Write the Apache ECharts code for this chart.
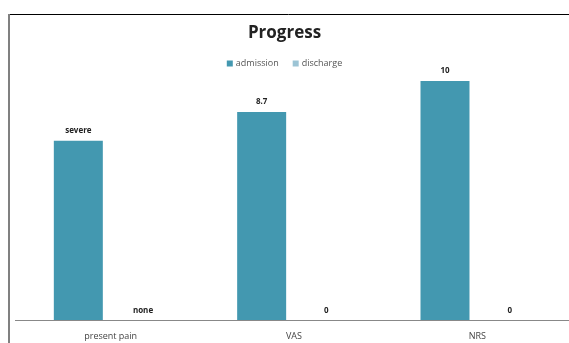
<!DOCTYPE html>
<html>
<head>
<meta charset="utf-8">
<script src="https://cdn.jsdelivr.net/npm/echarts@6/dist/echarts.min.js"></script>
<style>
html,body{margin:0;padding:0;background:#fff;}
#chart{width:569px;height:343px;}
</style>
</head>
<body>
<div id="chart"></div>
<script>
var categories = ["present pain", "VAS", "NRS"];
var admissionValues = [7.5, 8.7, 10];
var dischargeValues = [0, 0, 0];
var admissionLabels = ["severe", "8.7", "10"];
var dischargeLabels = ["none", "0", "0"];

var chart = echarts.init(document.getElementById('chart'));
var font = "'Open Sans', 'Liberation Sans', sans-serif";
chart.setOption({
  backgroundColor: '#ffffff',
  animation: false,
  title: {
    text: 'Progress',
    left: 'center',
    top: 20,
    textStyle: {fontFamily: font, fontSize: 17, fontWeight: 'bold', color: '#222'}
  },
  legend: {
    top: 54,
    left: 'center',
    itemWidth: 6,
    itemHeight: 6,
    itemGap: 14,
    icon: 'rect',
    textStyle: {fontFamily: font, fontSize: 9, color: '#555', padding: [0, 0, 0, -2]},
    data: ['admission', 'discharge']
  },
  grid: {left: 19, right: 0, top: 57, bottom: 23},
  xAxis: {
    type: 'category',
    data: categories,
    axisLine: {lineStyle: {color: '#888', width: 1}},
    axisTick: {show: false},
    axisLabel: {fontFamily: font, fontSize: 9, color: '#444', margin: 12}
  },
  yAxis: {
    type: 'value',
    min: 0,
    max: 11,
    show: false,
    splitLine: {show: false}
  },
  series: [
    {
      name: 'admission',
      type: 'bar',
      data: admissionValues,
      barWidth: 49,
      barGap: '32%',
      itemStyle: {color: '#4398B0'},
      label: {
        show: true, position: 'top', distance: 6,
        fontFamily: font, fontSize: 8, fontWeight: 'bold', color: '#222',
        formatter: function (p) { return admissionLabels[p.dataIndex]; }
      }
    },
    {
      name: 'discharge',
      type: 'bar',
      data: dischargeValues,
      barWidth: 49,
      itemStyle: {color: '#9CC4D5'},
      label: {
        show: true, position: 'top', distance: 5,
        fontFamily: font, fontSize: 8, fontWeight: 'bold', color: '#222',
        formatter: function (p) { return dischargeLabels[p.dataIndex]; }
      }
    }
  ],
  graphic: [
    {type: 'line', shape: {x1: 8, y1: 14.5, x2: 569, y2: 14.5}, style: {stroke: '#000', lineWidth: 1}},
    {type: 'line', shape: {x1: 9, y1: 14, x2: 9, y2: 343}, style: {stroke: '#808080', lineWidth: 2}},
    {type: 'line', shape: {x1: 15, y1: 320.5, x2: 19, y2: 320.5}, style: {stroke: '#888', lineWidth: 1}}
  ]
});
</script>
</body>
</html>
